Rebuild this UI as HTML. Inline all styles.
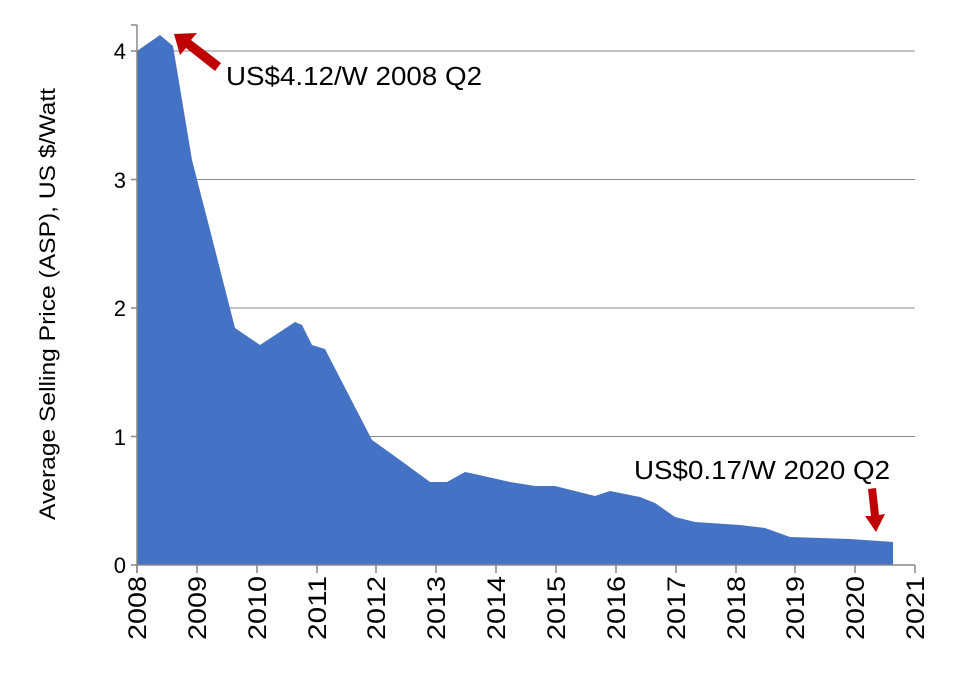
<!DOCTYPE html>
<html><head><meta charset="utf-8"><style>body{margin:0;background:#fff}</style></head><body>
<svg width="954" height="690" xmlns="http://www.w3.org/2000/svg" font-family="Liberation Sans, sans-serif">
<g stroke="#888" stroke-width="1">
<line x1="137" y1="51" x2="915" y2="51"/>
<line x1="137" y1="179.5" x2="915" y2="179.5"/>
<line x1="137" y1="308" x2="915" y2="308"/>
<line x1="137" y1="436.5" x2="915" y2="436.5"/>
</g>
<polygon fill="#4472C4" points="137,565 137,51 160,35 173,46 192,160 210,230 235,328 260,345 295,322 302,325 312,345 325,349 372,440 400,460 430,482 447,482 465,472 470,473 510,482 535,486 555,486 595,496 610,491 625,494 640,497 655,503 675,517 695,522 740,525 765,528 790,537 850,539 893,542 893,565"/>
<g stroke="#888" stroke-width="1.5">
<line x1="137" y1="25" x2="137" y2="573"/>
<line x1="131" y1="565" x2="915" y2="565"/>
<line x1="131" y1="51" x2="137" y2="51"/><line x1="131" y1="179.5" x2="137" y2="179.5"/><line x1="131" y1="308" x2="137" y2="308"/><line x1="131" y1="436.5" x2="137" y2="436.5"/>
<line x1="131" y1="25" x2="137" y2="25"/>
</g>
<g stroke="#888" stroke-width="1.5">
<line x1="137" y1="565" x2="137" y2="573"/><line x1="197" y1="565" x2="197" y2="573"/><line x1="257" y1="565" x2="257" y2="573"/><line x1="317" y1="565" x2="317" y2="573"/><line x1="376" y1="565" x2="376" y2="573"/><line x1="436" y1="565" x2="436" y2="573"/><line x1="496" y1="565" x2="496" y2="573"/><line x1="556" y1="565" x2="556" y2="573"/><line x1="616" y1="565" x2="616" y2="573"/><line x1="676" y1="565" x2="676" y2="573"/><line x1="736" y1="565" x2="736" y2="573"/><line x1="795" y1="565" x2="795" y2="573"/><line x1="855" y1="565" x2="855" y2="573"/><line x1="915" y1="565" x2="915" y2="573"/>
</g>
<g font-size="22" text-anchor="end" fill="#000">
<text x="126" y="59">4</text><text x="126" y="188">3</text><text x="126" y="316">2</text><text x="126" y="445">1</text><text x="126" y="573">0</text>
</g>
<g font-size="25" text-anchor="end" fill="#000">
<text transform="translate(146,576) rotate(-90)" textLength="64" lengthAdjust="spacingAndGlyphs">2008</text>
<text transform="translate(206,576) rotate(-90)" textLength="64" lengthAdjust="spacingAndGlyphs">2009</text>
<text transform="translate(266,576) rotate(-90)" textLength="64" lengthAdjust="spacingAndGlyphs">2010</text>
<text transform="translate(326,576) rotate(-90)" textLength="64" lengthAdjust="spacingAndGlyphs">2011</text>
<text transform="translate(385,576) rotate(-90)" textLength="64" lengthAdjust="spacingAndGlyphs">2012</text>
<text transform="translate(445,576) rotate(-90)" textLength="64" lengthAdjust="spacingAndGlyphs">2013</text>
<text transform="translate(505,576) rotate(-90)" textLength="64" lengthAdjust="spacingAndGlyphs">2014</text>
<text transform="translate(565,576) rotate(-90)" textLength="64" lengthAdjust="spacingAndGlyphs">2015</text>
<text transform="translate(625,576) rotate(-90)" textLength="64" lengthAdjust="spacingAndGlyphs">2016</text>
<text transform="translate(685,576) rotate(-90)" textLength="64" lengthAdjust="spacingAndGlyphs">2017</text>
<text transform="translate(745,576) rotate(-90)" textLength="64" lengthAdjust="spacingAndGlyphs">2018</text>
<text transform="translate(804,576) rotate(-90)" textLength="64" lengthAdjust="spacingAndGlyphs">2019</text>
<text transform="translate(864,576) rotate(-90)" textLength="64" lengthAdjust="spacingAndGlyphs">2020</text>
<text transform="translate(924,576) rotate(-90)" textLength="64" lengthAdjust="spacingAndGlyphs">2021</text>
</g>
<text transform="translate(55,304) rotate(-90)" font-size="22" text-anchor="middle" textLength="432" lengthAdjust="spacingAndGlyphs">Average Selling Price (ASP),  US $/Watt</text>
<text x="226" y="85" font-size="26" textLength="256" lengthAdjust="spacingAndGlyphs">US$4.12/W 2008 Q2</text>
<text x="634" y="479" font-size="26" textLength="256" lengthAdjust="spacingAndGlyphs">US$0.17/W 2020 Q2</text>
<polygon fill="#C00000" points="174,34 197,33 191,40 221,63 215,71 186,48 180,55"/>
<polygon fill="#C00000" points="868,489 876,488 879,515 885,514 876,532 865,516 871,516"/>
</svg>
</body></html>
